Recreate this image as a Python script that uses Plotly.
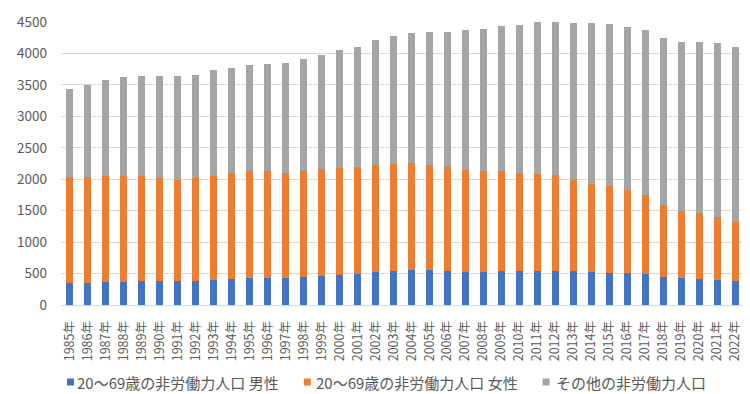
import plotly.graph_objects as go

years = [f"{y}年" for y in range(1985, 2023)]

male = [350, 350, 365, 365, 380, 380, 380, 380, 400, 415, 430, 435,
        435, 445, 460, 480, 490, 520, 535, 550, 550, 535, 520, 520,
        545, 545, 545, 545, 545, 530, 515, 515, 490, 440, 425, 410, 395, 375]

female = [1685, 1685, 1680, 1680, 1665, 1635, 1615, 1635, 1655, 1690, 1705, 1690,
          1665, 1690, 1700, 1705, 1710, 1705, 1705, 1705, 1675, 1655, 1625, 1615,
          1590, 1560, 1545, 1525, 1440, 1390, 1380, 1315, 1255, 1145, 1070, 1050, 1005, 950]

other = [1400, 1470, 1540, 1580, 1595, 1625, 1645, 1650, 1675, 1670, 1680, 1710,
         1745, 1780, 1815, 1865, 1905, 1990, 2030, 2065, 2115, 2155, 2220, 2260,
         2305, 2350, 2405, 2425, 2505, 2565, 2575, 2590, 2620, 2660, 2690, 2730, 2760, 2775]

names = ["20～69歳の非労働力人口 男性", "20～69歳の非労働力人口 女性", "その他の非労働力人口"]
colors = ["#4472C4", "#ED7D31", "#A5A5A5"]

W, H = 750, 394
PLOT_L, PLOT_R, PLOT_T, PLOT_B = 53, 736.5, 14, 297
ML, MT = PLOT_L, PLOT_T
MR, MB = W - PLOT_R, H - PLOT_B
PW, PH = PLOT_R - PLOT_L, PLOT_B - PLOT_T

def px_x(p):
    return (p - PLOT_L) / PW

def px_y(p):
    return (PLOT_B - p) / PH

font_family = "Noto Sans CJK JP, Noto Sans, sans-serif"
text_color = "#595959"

fig = go.Figure()
for name, vals, c in zip(names, [male, female, other], colors):
    fig.add_trace(go.Bar(x=years, y=vals, name=name, marker=dict(color=c, line=dict(width=0))))

# custom legend (Excel-like: small square then label)
legend_sq_left = [59, 296, 535]
legend_text_left = [68, 307, 547]
legend_y = 374
shapes, annotations = [], []
for name, c, sx, tx in zip(names, colors, legend_sq_left, legend_text_left):
    shapes.append(dict(type="rect", xref="paper", yref="paper",
                       x0=px_x(sx), x1=px_x(sx + 7), y0=px_y(legend_y + 3.5), y1=px_y(legend_y - 3.5),
                       fillcolor=c, line=dict(width=0)))
    annotations.append(dict(text=name, xref="paper", yref="paper", x=px_x(tx - 1), y=px_y(legend_y),
                            xanchor="left", yanchor="middle", showarrow=False,
                            font=dict(size=15, color=text_color, family=font_family)))

fig.update_layout(
    barmode="stack",
    bargap=0.61,
    width=W, height=H,
    margin=dict(l=ML, r=MR, t=MT, b=MB, autoexpand=False),
    plot_bgcolor="white", paper_bgcolor="white",
    font=dict(family=font_family, size=12, color=text_color),
    showlegend=False,
    shapes=shapes,
    annotations=annotations,
    xaxis=dict(tickangle=-90, showgrid=False, showline=True, linecolor="#D9D9D9", linewidth=1,
               ticks="", automargin=False, ticklabelstandoff=10,
               tickfont=dict(size=12.5, color=text_color)),
    yaxis=dict(range=[0, 4500], dtick=500, showgrid=True, gridcolor="#D9D9D9",
               zeroline=False, ticks="", automargin=False, ticklabelstandoff=13,
               tickfont=dict(size=13.5, color=text_color)),
)

fig.write_html("out.html")
